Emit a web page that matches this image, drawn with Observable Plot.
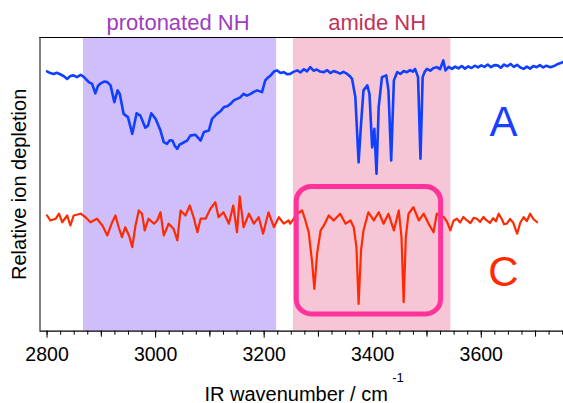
<!DOCTYPE html>
<html><head><meta charset="utf-8">
<script src="https://cdn.jsdelivr.net/npm/d3@7"></script>
<script src="https://cdn.jsdelivr.net/npm/@observablehq/plot@0.6"></script>
<style>body{margin:0;background:#fff;} svg{display:block}</style>
</head><body><div id="chart"></div>
<script>
// ---- data ----
const regionNames = ["protonated NH", "amide NH"];
const regionStart = [2867, 3254];
const regionEnd = [3223, 3544];
const boxRange = [3260, 3526];      // wavenumber range of highlighted C peaks
const boxLevels = [5.7, 49.1];      // relative depletion (a.u.) range of box
const majorTicks = [2800, 3000, 3200, 3400, 3600];
const midTicks = [2900, 3100, 3300, 3500, 3700];
const traceNames = ["A", "C"];

// trace A: [wavenumber, relative signal (a.u., offset)]
const traceA = [
[2800,88.5],[2806,87.9],[2812,87.6],[2818,88.0],[2825,87.4],[2831,86.8],[2837,85.9],[2843,86.9],
[2849,87.1],[2855,86.5],[2862,87.3],[2868,86.5],[2877,84.8],[2883,84.2],[2889,81.0],[2894,83.6],
[2899,84.4],[2905,85.0],[2911,84.8],[2917,83.7],[2924,78.0],[2930,82.0],[2934,80.8],[2941,74.0],
[2949,72.9],[2957,67.2],[2965,74.2],[2972,73.4],[2981,69.3],[2986,70.0],[2992,74.2],[3000,72.3],
[3009,68.3],[3015,64.4],[3021,63.8],[3026,65.0],[3031,64.9],[3035,63.2],[3040,62.1],[3044,63.5],
[3049,64.0],[3058,64.9],[3064,66.6],[3073,66.9],[3083,64.9],[3089,67.8],[3098,68.3],[3104,72.3],
[3113,74.0],[3120,75.0],[3126,76.3],[3132,76.6],[3138,77.4],[3144,78.6],[3150,79.1],[3156,79.6],
[3162,80.8],[3168,80.2],[3175,80.8],[3181,81.5],[3187,82.0],[3196,81.4],[3202,85.4],[3206,86.2],
[3212,87.1],[3218,88.4],[3224,88.8],[3230,87.9],[3236,88.2],[3242,87.5],[3248,87.6],[3254,88.3],
[3261,88.8],[3267,88.1],[3273,89.2],[3279,88.5],[3285,89.9],[3291,88.7],[3297,89.1],[3303,88.4],
[3310,88.2],[3316,88.9],[3322,87.9],[3328,88.6],[3334,88.2],[3340,87.7],[3346,88.3],[3353,87.6],
[3358,86.8],[3362,85.9],[3368,79.7],[3374,57.5],[3378.5,70.6],[3383,82.0],[3390,83.7],[3394,80.8],
[3399,62.6],[3403,68.9],[3407,53.6],[3411,76.3],[3417,86.5],[3425,87.1],[3429,82.0],[3434,58.1],
[3439,85.4],[3445,88.2],[3451,87.6],[3457,88.6],[3463,88.2],[3469,88.9],[3474,88.4],[3478,89.3],
[3483.5,86.5],[3488,58.7],[3492,86.5],[3496,88.4],[3500,89.3],[3506,88.7],[3512,89.6],[3518,89.9],
[3524,89.2],[3530,92.2],[3534,88.8],[3540,90.0],[3546,89.3],[3552,90.1],[3558,89.5],[3564,90.3],
[3570,89.4],[3576,90.2],[3582,89.6],[3588,90.4],[3594,89.8],[3600,90.5],[3606,90.0],[3612,90.8],
[3618,89.9],[3624,90.6],[3630,90.5],[3636,89.7],[3642,90.8],[3648,90.2],[3654,91.0],[3660,90.0],
[3666,90.7],[3672,89.8],[3678,89.3],[3684,90.1],[3690,89.4],[3696,90.3],[3702,89.9],[3708,90.6],
[3714,89.8],[3720,90.4],[3727,89.9],[3733,90.2],[3739,90.8],[3745,91.2],[3750,91.6]
];

// trace C: [wavenumber, relative signal (a.u., offset)]
const traceC = [
[2800,39.4],[2806,37.7],[2816,38.3],[2822,40.0],[2828,37.1],[2837,39.4],[2843,36.0],[2849,39.4],
[2862,40.0],[2871,38.8],[2880,37.1],[2892,38.3],[2902,36.0],[2911,32.6],[2920,37.1],[2926,39.4],
[2932,35.4],[2938,32.0],[2944,35.4],[2951,32.6],[2957,28.6],[2963,36.0],[2969,41.1],[2975,40.0],
[2980,34.3],[2987,38.3],[2997,36.6],[3003,37.7],[3009,40.5],[3015,32.6],[3024,36.6],[3033,34.9],
[3040,30.9],[3046,41.1],[3055,39.4],[3063,42.8],[3070,38.8],[3077,33.7],[3083,38.3],[3092,38.3],
[3101,41.7],[3110,43.9],[3116,38.8],[3125,40.5],[3135,36.6],[3143,42.8],[3150,33.7],[3155,45.9],
[3162,35.4],[3172,40.0],[3181,36.6],[3190,38.8],[3198,33.2],[3208,40.5],[3218,35.4],[3227,38.8],
[3236,36.6],[3245,37.7],[3248,36.6],[3261,40.0],[3270,41.1],[3276,37.7],[3282,33.7],[3288,24.1],
[3292.5,14.4],[3297.5,26.4],[3304,34.3],[3310,36.0],[3319,39.4],[3328,37.7],[3340,40.0],[3350,36.6],
[3359,37.7],[3365,35.4],[3370,28.6],[3374,9.3],[3378.5,27.5],[3383,34.3],[3392,40.5],[3402,37.7],
[3411,40.5],[3420,36.6],[3429,40.0],[3439,34.3],[3448,41.1],[3453,32.0],[3457,9.9],[3461,32.0],
[3466,40.0],[3475,42.2],[3485,37.7],[3494,40.0],[3503,36.6],[3512,33.7],[3518,40.0],[3531,38.8],
[3537,37.2],[3543,34.3],[3549,37.6],[3555,38.3],[3561,37.0],[3567,38.9],[3574,37.7],[3580,36.8],
[3586,38.6],[3592,38.3],[3598,37.2],[3604,38.9],[3610,37.7],[3616,36.9],[3622,38.5],[3627,37.4],
[3632,40.0],[3638,38.1],[3642,36.4],[3647,36.6],[3653,38.2],[3659,36.9],[3666,33.2],[3672,37.0],
[3678,38.8],[3684,37.5],[3690,40.0],[3696,38.2],[3703,37.1]
];

// ---- chart ----
const font = "'Liberation Sans', Arial, Helvetica, sans-serif";
const xDomain = [2787, 3751.5];

const chart = Plot.plot({
  width: 563,
  height: 403,
  marginLeft: 39.5,
  marginRight: 0,
  marginTop: 37,
  marginBottom: 72.3,
  style: {fontFamily: font, background: "white", overflow: "visible", color: "black"},
  x: {domain: xDomain},
  y: {domain: [0, 100], axis: null},
  marks: [
    Plot.rect([0], {x1: i => regionStart[i], x2: i => regionEnd[i], y1: () => 0, y2: () => 100, fill: "#cfbefa"}),
    Plot.rect([1], {x1: i => regionStart[i], x2: i => regionEnd[i], y1: () => 0, y2: () => 100, fill: "#f7c6d6"}),
    Plot.text([0], {x: i => (regionStart[i] + regionEnd[i]) / 2, frameAnchor: "top", text: i => regionNames[i],
      fill: "#a03cbe", fontSize: 22, lineAnchor: "bottom", dy: -8, dx: -2}),
    Plot.text([1], {x: i => (regionStart[i] + regionEnd[i]) / 2, frameAnchor: "top", text: i => regionNames[i],
      fill: "#c0325a", fontSize: 22, lineAnchor: "bottom", dy: -8, dx: 5}),
    Plot.ruleX([xDomain[0]], {stroke: "black", strokeWidth: 1}),
    Plot.ruleY([100], {stroke: "black", strokeWidth: 1}),
    Plot.line(traceA, {x: d => d[0], y: d => d[1], stroke: "#1040ff", strokeWidth: 2.6, strokeLinejoin: "round"}),
    Plot.line(traceC, {x: d => d[0], y: d => d[1], stroke: "#ff2a00", strokeWidth: 2.2, strokeLinejoin: "round"}),
    Plot.rect([0], {x1: () => boxRange[0], x2: () => boxRange[1], y1: () => boxLevels[0], y2: () => boxLevels[1],
      fill: "none", stroke: "#ff3399", strokeWidth: 5, rx: 15}),
    Plot.text([0], {x: () => 3641, y: () => 71.2, text: () => traceNames[0], fill: "#1a40ff", fontSize: 42}),
    Plot.text([1], {x: () => 3641, y: () => 20.1, text: () => traceNames[1], fill: "#ff2a00", fontSize: 42}),
    Plot.ruleY([0], {stroke: "black", strokeWidth: 1.3}),
    Plot.axisX({ticks: d3.range(2800, 3751, 25), tickSize: 4, tickFormat: () => "", label: null, stroke: "black"}),
    Plot.axisX({ticks: midTicks, tickSize: 6, tickFormat: () => "", label: null, stroke: "black"}),
    Plot.axisX({ticks: majorTicks, tickSize: 7, tickPadding: 9, fontSize: 19.5, label: null, stroke: "black", fill: "black",
      tickFormat: d => String(d)}),
    Plot.text([0], {frameAnchor: "bottom-left", x: () => 3090, text: () => "IR wavenumber / cm",
      fontSize: 20, textAnchor: "start", lineAnchor: "bottom", dy: 69.3, fill: "black"}),
    Plot.text([0], {frameAnchor: "bottom-left", x: () => 3436, text: () => "-1",
      fontSize: 13, textAnchor: "start", lineAnchor: "bottom", dy: 50.3, fill: "black"}),
    Plot.text([0], {frameAnchor: "left", text: () => "Relative ion depletion", rotate: -90, textAnchor: "middle",
      fontSize: 20, lineAnchor: "bottom", dx: -14, fill: "black"})
  ]
});
document.getElementById("chart").appendChild(chart);
</script>
</body></html>
